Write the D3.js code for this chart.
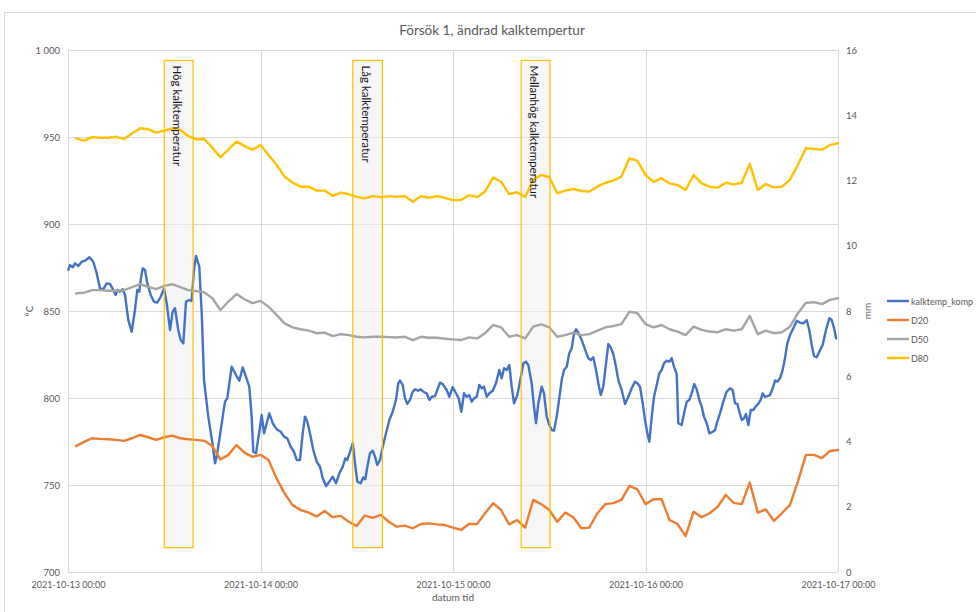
<!DOCTYPE html>
<html><head><meta charset="utf-8">
<script src="https://cdn.jsdelivr.net/npm/d3@7"></script>
<style>
body{margin:0;background:#fff;}
svg{display:block;font-family:Lato,"Open Sans",sans-serif;}
</style></head><body>
<svg id="chart" width="976" height="612"></svg>
<script>
const chartTitle = "Försök 1, ändrad kalktempertur";
const xTitle = "datum tid";
const yLeftTitle = "°C";
const yRightTitle = "mm";
const xTickHours = [0, 24, 48, 72, 96];
const xTickLabels = ["2021-10-13 00:00","2021-10-14 00:00","2021-10-15 00:00","2021-10-16 00:00","2021-10-17 00:00"];
const leftTicks = [700, 750, 800, 850, 900, 950, 1000];
const leftTickLabels = ["700","750","800","850","900","950","1 000"];
const rightTicks = [0, 2, 4, 6, 8, 10, 12, 14, 16];
const seriesNames = ["kalktemp_komp", "D20", "D50", "D80"];
const seriesColors = ["#4472C4", "#ED7D31", "#A5A5A5", "#FFC000"];

const annotLabels = ["Hög kalktemperatur", "Låg kalktemperatur", "Mellanhög kalktemperatur"];
const annotStartH = [12.0, 35.5, 56.5];
const annotEndH = [15.6, 39.2, 60.1];
const annotTop = 994;   // °C
const annotBottom = 714; // °C

// hours since 2021-10-13 00:00 for the D-series (hourly)
const dHours = [1,2,3,4,5,6,7,8,9,10,11,12,13,14,15,16,17,18,19,20,21,22,23,24,25,26,27,28,29,30,31,32,33,34,35,36,37,38,39,40,41,42,43,44,45,46,47,48,49,50,51,52,53,54,55,56,57,58,59,60,61,62,63,64,65,66,67,68,69,70,71,72,73,74,75,76,77,78,79,80,81,82,83,84,85,86,87,88,89,90,91,92,93,94,95,96];

const d20 = [3.86,3.99,4.10,4.08,4.07,4.05,4.02,4.10,4.20,4.13,4.05,4.13,4.18,4.10,4.07,4.05,4.02,3.86,3.45,3.59,3.89,3.66,3.53,3.59,
3.43,2.87,2.41,2.05,1.90,1.82,1.70,1.87,1.68,1.72,1.54,1.41,1.73,1.66,1.75,1.54,1.39,1.42,1.34,1.47,1.49,1.46,1.44,1.36,
1.29,1.47,1.47,1.80,2.11,1.90,1.46,1.59,1.36,2.21,2.08,1.90,1.54,1.82,1.68,1.34,1.36,1.80,2.08,2.11,2.21,2.64,2.53,2.08,
2.23,2.23,1.59,1.47,1.10,1.85,1.68,1.80,2.00,2.36,2.12,2.08,2.74,1.82,1.92,1.57,1.80,2.05,2.77,3.59,3.59,3.49,3.71,3.74];

const d50 = [8.54,8.56,8.64,8.64,8.62,8.62,8.64,8.73,8.82,8.74,8.67,8.77,8.82,8.73,8.64,8.61,8.57,8.39,8.03,8.29,8.52,8.36,8.24,8.31,
8.13,7.88,7.62,7.50,7.44,7.40,7.32,7.34,7.23,7.29,7.26,7.21,7.19,7.21,7.21,7.20,7.19,7.21,7.11,7.21,7.18,7.18,7.15,7.13,
7.11,7.19,7.16,7.32,7.57,7.50,7.21,7.26,7.16,7.52,7.59,7.50,7.21,7.26,7.34,7.26,7.29,7.40,7.50,7.54,7.60,7.98,7.93,7.60,
7.50,7.57,7.44,7.37,7.26,7.52,7.42,7.37,7.35,7.44,7.40,7.44,7.85,7.29,7.40,7.32,7.35,7.52,7.93,8.25,8.27,8.21,8.34,8.39];

const d80 = [13.29,13.22,13.33,13.31,13.31,13.34,13.27,13.45,13.60,13.57,13.47,13.53,13.60,13.55,13.36,13.26,13.27,13.00,12.71,12.95,13.19,13.06,12.94,13.09,
12.78,12.48,12.12,11.93,11.81,11.81,11.69,11.69,11.53,11.63,11.58,11.50,11.45,11.52,11.49,11.52,11.50,11.52,11.35,11.52,11.47,11.52,11.47,11.40,
11.40,11.55,11.49,11.66,12.09,11.96,11.58,11.64,11.49,12.02,12.17,12.10,11.61,11.69,11.74,11.68,11.66,11.81,11.93,12.00,12.12,12.68,12.60,12.17,
11.96,12.07,11.91,11.86,11.71,12.17,11.91,11.81,11.78,11.93,11.88,11.93,12.51,11.71,11.89,11.79,11.81,12.02,12.48,12.99,12.97,12.94,13.09,13.14];

// kalktemp_komp: hours since start and °C
const kHours = [0.04,0.25,0.59,0.87,1.28,1.71,2.12,2.66,3.15,3.58,3.99,4.40,4.83,5.24,5.65,5.95,6.15,6.48,6.82,7.11,7.52,7.94,8.35,8.64,8.89,9.06,9.31,9.60,9.89,10.31,10.72,11.13,11.56,11.97,12.31,12.72,13.05,13.34,13.75,14.05,14.38,14.71,15.12,15.42,15.71,15.96,16.37,16.67,16.96,17.49,18.04,18.33,18.54,18.86,19.29,19.57,19.86,20.41,20.95,21.36,21.78,22.19,22.60,22.90,23.10,23.44,23.85,24.15,24.44,24.77,25.10,25.52,26.02,26.52,26.93,27.34,27.77,28.18,28.51,28.93,29.26,29.55,29.84,30.17,30.58,31.01,31.42,31.76,32.17,32.58,33.00,33.41,33.83,34.25,34.57,34.82,35.16,35.50,35.78,36.07,36.49,36.82,37.07,37.32,37.65,37.99,38.28,38.56,38.90,39.24,39.65,40.06,40.48,40.89,41.18,41.39,41.73,42.02,42.30,42.64,42.98,43.26,43.67,43.97,44.30,44.72,45.05,45.35,45.76,46.04,46.38,46.72,47.21,47.54,47.96,48.37,48.71,49.04,49.37,49.71,50.03,50.33,50.62,50.96,51.28,51.58,51.87,52.20,52.53,52.95,53.36,53.77,54.07,54.36,54.70,55.02,55.32,55.61,56.02,56.35,56.77,57.10,57.39,57.81,58.10,58.35,58.64,59.06,59.35,59.68,60.01,60.31,60.59,60.93,61.25,61.55,61.84,62.18,62.50,62.80,63.09,63.34,63.62,64.05,64.46,64.87,65.17,65.49,65.83,66.12,66.42,66.74,67.08,67.36,67.66,67.99,68.32,68.61,69.03,69.45,69.86,70.28,70.69,70.98,71.32,71.65,71.94,72.23,72.48,72.78,73.06,73.40,73.72,74.02,74.31,74.65,74.97,75.27,75.55,75.89,76.09,76.51,76.80,77.14,77.46,77.76,78.08,78.38,78.71,79.01,79.29,79.63,79.95,80.38,80.67,80.95,81.29,81.70,82.12,82.54,82.87,83.16,83.45,83.70,84.00,84.29,84.53,84.82,85.12,85.44,85.78,86.06,86.36,86.61,86.90,87.19,87.52,87.86,88.15,88.43,88.77,89.10,89.39,89.68,90.02,90.43,90.85,91.26,91.67,92.10,92.42,92.72,93.01,93.34,93.67,94.09,94.50,94.92,95.22,95.51,95.76];
const kTemp = [873.6,876.4,875.1,877.4,875.9,878.3,878.9,880.9,878.3,871.7,863.0,862.5,865.9,865.5,862.1,859.2,862.1,861.1,862.5,859.2,844.8,838.1,850.6,862.1,861.1,867.8,874.5,873.6,865.9,859.2,855.3,854.8,858.2,863.0,854.4,839.1,849.6,851.6,839.1,833.3,831.4,855.3,856.3,855.9,873.6,881.6,875.5,848.7,810.3,789.3,773.0,762.5,766.3,775.9,789.3,797.9,799.8,818.0,813.2,809.9,817.6,812.2,806.5,789.3,769.1,768.2,780.6,790.2,779.7,785.5,791.2,785.5,782.0,780.6,777.8,776.8,772.0,769.1,764.4,764.4,779.7,789.3,786.4,779.7,770.1,763.4,760.5,753.9,749.4,751.9,754.8,751.0,756.7,760.5,765.3,764.4,769.1,773.9,762.5,751.9,751.0,754.4,753.3,760.5,768.2,769.7,766.3,761.5,764.4,772.0,779.7,787.4,792.1,798.9,808.5,810.0,807.5,799.8,796.6,798.9,803.6,805.0,804.2,805.0,803.6,802.7,798.9,800.7,801.1,804.6,808.8,808.0,804.6,800.7,806.2,802.7,799.8,792.1,802.7,800.7,801.7,797.9,799.8,800.7,807.5,805.6,806.5,800.7,802.7,804.2,808.5,816.1,811.3,817.1,816.1,819.0,806.5,796.9,801.7,809.4,819.9,820.9,819.0,808.5,795.0,785.5,796.9,806.5,802.7,789.3,784.5,781.6,781.2,789.3,799.8,810.3,816.1,818.0,825.7,828.6,837.2,839.5,837.5,833.3,828.0,822.8,821.8,823.4,816.1,808.5,801.7,806.5,819.9,831.0,829.1,825.3,818.0,810.3,804.6,796.6,800.7,805.6,809.4,808.5,806.5,796.9,787.4,779.7,774.9,789.3,800.7,807.5,814.2,816.1,820.0,821.4,820.9,822.8,818.0,813.8,785.5,784.5,791.2,797.9,798.9,802.7,808.0,805.0,798.9,795.0,789.3,785.5,779.7,780.6,781.6,786.4,791.2,797.9,803.6,805.6,804.6,796.9,796.6,792.1,787.4,788.3,790.8,784.5,793.1,793.1,795.4,796.6,798.9,802.7,800.7,801.1,801.7,805.6,810.0,809.4,811.3,816.1,822.8,831.4,836.2,840.1,844.4,843.3,842.9,844.8,839.1,830.5,824.1,823.4,826.6,830.5,839.1,845.8,844.8,840.1,834.3];

// ---------- drawing ----------
const W = 976, H = 612;
const plot = {left: 68, right: 838, top: 50, bottom: 572};
const t0 = Date.UTC(2021, 9, 13, 0, 0);
const toDate = h => new Date(t0 + h * 3600e3);
const x = d3.scaleUtc().domain([toDate(0), toDate(96)]).range([plot.left, plot.right]);
const yL = d3.scaleLinear().domain([700, 1000]).range([plot.bottom, plot.top]);
const yR = d3.scaleLinear().domain([0, 16]).range([plot.bottom, plot.top]);

const svg = d3.select("#chart");
const textCol = "#595959";
const gridCol = "#d9d9d9";

// chart border
svg.append("rect").attr("x", 4.5).attr("y", 12.5).attr("width", 1000).attr("height", 700)
  .attr("fill", "#fff").attr("stroke", gridCol).attr("stroke-width", 1);

// title
svg.append("text").attr("x", 492).attr("y", 35).attr("text-anchor", "middle")
  .attr("font-size", 13.5).attr("fill", textCol).text(chartTitle);

// gridlines
const gGrid = svg.append("g");
gGrid.selectAll("line.h").data(leftTicks).join("line")
  .attr("x1", plot.left).attr("x2", plot.right)
  .attr("y1", d => Math.round(yL(d)) + 0.5).attr("y2", d => Math.round(yL(d)) + 0.5)
  .attr("stroke", gridCol).attr("stroke-width", 1);
gGrid.selectAll("line.v").data(xTickHours).join("line")
  .attr("y1", plot.top).attr("y2", plot.bottom)
  .attr("x1", d => Math.round(x(toDate(d))) + 0.5).attr("x2", d => Math.round(x(toDate(d))) + 0.5)
  .attr("stroke", gridCol).attr("stroke-width", 1);

// axes
const axL = svg.append("g").attr("transform", `translate(${plot.left - 8},0)`)
  .call(d3.axisLeft(yL).tickValues(leftTicks).tickFormat((d, i) => leftTickLabels[i]).tickSize(0).tickPadding(0));
const axR = svg.append("g").attr("transform", `translate(${plot.right + 8},0)`)
  .call(d3.axisRight(yR).tickValues(rightTicks).tickFormat(d => d).tickSize(0).tickPadding(0));
const axB = svg.append("g").attr("transform", `translate(0,${plot.bottom + 8})`)
  .call(d3.axisBottom(x).tickValues(xTickHours.map(toDate)).tickFormat((d, i) => xTickLabels[i]).tickSize(0).tickPadding(0));
[axL, axR, axB].forEach(a => {
  a.select(".domain").remove();
  a.selectAll("text").attr("fill", textCol).attr("font-size", 9.5).attr("font-family", "Lato, sans-serif");
});
axB.selectAll("text").attr("dy", "0.9em").attr("font-size", 9);

// axis titles
svg.append("text").attr("transform", "translate(33,311) rotate(-90)").attr("text-anchor", "middle")
  .attr("font-size", 10).attr("fill", textCol).text(yLeftTitle);
svg.append("text").attr("transform", "translate(871,311) rotate(-90)").attr("text-anchor", "middle")
  .attr("font-size", 10).attr("fill", textCol).text(yRightTitle);
svg.append("text").attr("x", 453).attr("y", 601).attr("text-anchor", "middle")
  .attr("font-size", 10).attr("fill", textCol).text(xTitle);

// annotation boxes (fill)
const annots = annotLabels.map((l, i) => ({label: l, s: annotStartH[i], e: annotEndH[i]}));
svg.append("g").selectAll("rect").data(annots).join("rect")
  .attr("x", d => x(toDate(d.s))).attr("width", d => x(toDate(d.e)) - x(toDate(d.s)))
  .attr("y", yL(annotTop)).attr("height", yL(annotBottom) - yL(annotTop))
  .attr("fill", "#eeeeee").attr("fill-opacity", 0.55);

// lines
const lineK = d3.line().x(d => x(toDate(d[0]))).y(d => yL(d[1]));
const lineR = d3.line().x(d => x(toDate(d[0]))).y(d => yR(d[1]));
const gLines = svg.append("g").attr("fill", "none").attr("stroke-width", 2.4)
  .attr("stroke-linejoin", "round").attr("stroke-linecap", "round");
gLines.append("path").attr("d", lineK(kHours.map((h, i) => [h, kTemp[i]]))).attr("stroke", seriesColors[0]);
[d20, d50, d80].forEach((arr, k) => {
  gLines.append("path").attr("d", lineR(dHours.map((h, i) => [h, arr[i]]))).attr("stroke", seriesColors[k + 1]);
});

// annotation box outlines + labels
const gA = svg.append("g");
gA.selectAll("rect").data(annots).join("rect")
  .attr("x", d => x(toDate(d.s))).attr("width", d => x(toDate(d.e)) - x(toDate(d.s)))
  .attr("y", yL(annotTop)).attr("height", yL(annotBottom) - yL(annotTop))
  .attr("fill", "none").attr("stroke", "#FFC000").attr("stroke-width", 1.2);
gA.selectAll("text").data(annots).join("text")
  .attr("transform", d => `translate(${(x(toDate(d.s)) + x(toDate(d.e))) / 2 - 1},${yL(annotTop) + 5}) rotate(90)`)
  .attr("dominant-baseline", "central").attr("font-size", 11.5).attr("fill", "#1a1a1a")
  .text(d => d.label);

// legend
const gLeg = svg.append("g").attr("transform", "translate(887,301)");
seriesNames.forEach((n, i) => {
  const g = gLeg.append("g").attr("transform", `translate(0,${i * 19})`);
  g.append("line").attr("x1", 0).attr("x2", 22).attr("y1", 0).attr("y2", 0)
    .attr("stroke", seriesColors[i]).attr("stroke-width", 2.4);
  g.append("text").attr("x", 24).attr("y", 0).attr("dominant-baseline", "central")
    .attr("font-size", 9).attr("fill", textCol).text(n);
});
</script>
</body></html>
